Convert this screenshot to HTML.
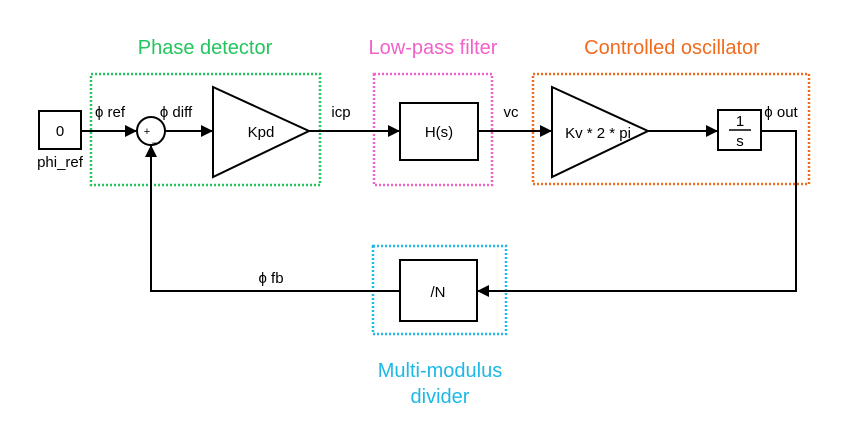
<!DOCTYPE html>
<html><head><style>body{margin:0;background:#fff}</style></head><body>
<svg width="850" height="440" xmlns="http://www.w3.org/2000/svg" font-family="Liberation Sans, Arial, sans-serif">
<rect width="850" height="440" fill="#fff"/>
<defs><marker id="a" markerWidth="12" markerHeight="12" refX="11" refY="6" orient="auto" markerUnits="userSpaceOnUse"><path d="M0,0L12,6L0,12z" fill="#000"/></marker></defs>
<g fill="none" stroke-width="2.5" stroke-dasharray="2 2">
<rect x="91" y="74" width="229" height="111" stroke="#22c55e"/>
<rect x="374" y="74" width="118" height="111" stroke="#f062c8"/>
<rect x="533" y="74" width="276" height="110" stroke="#f26b1d"/>
<rect x="373" y="246" width="133" height="88" stroke="#1fb8e6"/>
</g>
<g font-size="20" text-anchor="middle">
<text x="205" y="54" fill="#22c55e">Phase detector</text>
<text x="433" y="54" fill="#f062c8">Low-pass filter</text>
<text x="672" y="54" fill="#f26b1d">Controlled oscillator</text>
<text x="440" y="377" fill="#1fb8e6">Multi-modulus</text>
<text x="440" y="403" fill="#1fb8e6">divider</text>
</g>
<g stroke="#000" stroke-width="2" fill="none">
<rect x="39" y="111" width="42" height="38"/>
<circle cx="151" cy="131" r="14"/>
<path d="M213,87L309,131L213,177z"/>
<rect x="400" y="103" width="78" height="57"/>
<path d="M552,87L648,131L552,177z"/>
<rect x="718" y="110" width="43" height="40"/>
<rect x="400" y="260" width="77" height="61"/>
<path d="M81,131H136" marker-end="url(#a)"/>
<path d="M165,131H212" marker-end="url(#a)"/>
<path d="M309,131H399" marker-end="url(#a)"/>
<path d="M478,131H551" marker-end="url(#a)"/>
<path d="M648,131H717" marker-end="url(#a)"/>
<path d="M761,131H796V291H478" marker-end="url(#a)"/>
<path d="M400,291H151V146" marker-end="url(#a)"/>
<path d="M729,130H751" stroke-width="1.5"/>
</g>
<g font-size="15" fill="#000" text-anchor="middle">
<text x="60" y="136">0</text>
<text x="60" y="167">phi_ref</text>
<text x="261" y="137">Kpd</text>
<text x="439" y="137">H(s)</text>
<text x="598" y="138">Kv * 2 * pi</text>
<text x="740" y="126">1</text>
<text x="740" y="146">s</text>
<text x="438" y="297">/N</text>
<text x="110" y="117">ϕ ref</text>
<text x="176" y="117">ϕ diff</text>
<text x="341" y="117">icp</text>
<text x="511" y="117">vc</text>
<text x="781" y="117">ϕ out</text>
<text x="271" y="283">ϕ fb</text>
<text x="147" y="135" font-size="11">+</text>
<text x="156" y="141" font-size="13">_</text>
</g>
</svg>
</body></html>
